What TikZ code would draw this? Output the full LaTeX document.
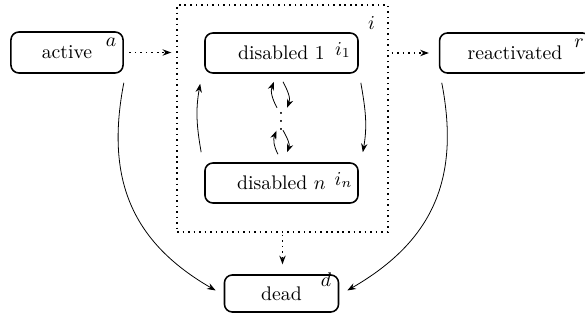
\documentclass[tikz,border=0pt]{standalone}
\usetikzlibrary{arrows.meta,calc}
\begin{document}
\begin{tikzpicture}[x=0.5076pt,y=-0.5076pt,
  state/.style={draw,thick,rounded corners=4pt,inner sep=0pt,minimum height=20.3pt},
  tag/.style={inner sep=0pt,anchor=center},
  >={Stealth[length=4.4pt,width=3.2pt]},
  flow/.style={->},
  dflow/.style={->,dotted,thick}]
\useasboundingbox (0,0) rectangle (585,321);
% group box
\node[draw,dotted,thick,minimum width=107.1pt,minimum height=115.2pt,inner sep=0pt] (grp) at (282.5,118.5) {};
% states
\node[state,minimum width=56.9pt,minimum height=20.8pt] (act) at (67,52.5) {active};
\node[state,minimum width=77.7pt] (dis1) at (281.5,53) {disabled 1};
\node[state,minimum width=77.7pt] (disn) at (281.5,183) {disabled $n$};
\node[state,minimum width=76.6pt] (rea) at (515,53) {reactivated};
\node[state,minimum width=57.9pt,minimum height=18.8pt] (dead) at (281.5,293.5) {dead};
\node[inner sep=0pt,anchor=south] (vd) at (281,130.5) {$\vdots$};
% tags
\node[tag] (ta) at (111,42) {$a$};
\node[tag] (ti) at (371.5,23.5) {$i$};
\node[tag] (ti1) at (343,50) {$i_1$};
\node[tag] (tin) at (343.5,180) {$i_n$};
\node[tag] (tr) at (579,43) {$r$};
\node[tag] (td) at (326,280) {$d$};
% dotted connectors
\draw[dflow,shorten <=2.8pt,shorten >=2.5pt] (act.east) -- (act.east -| grp.west);
\draw[dflow,shorten <=1.5pt,shorten >=5pt] (grp.east |- rea.west) -- (rea.west);
\draw[dflow,shorten <=1pt,shorten >=5pt] (grp.south) -- (grp.south |- dead.north);
% outer curves
\draw[flow] ($(act.south east)+(0,9)$) to[out=-101,in=150,looseness=1.1] ($(dead.west)+(-8,-3)$);
\draw[flow] ($(rea.south west)+(3,9)$) to[out=-79,in=30,looseness=1.1] ($(dead.east)+(8,-3)$);
% inner curves
\draw[flow] ($(disn.north west)+(-3,-10)$) to[out=100,in=-100] ($(dis1.south west)+(-4,10)$);
\draw[flow] ($(dis1.south east)+(2,9)$) to[out=-80,in=80] ($(disn.north east)+(4,-10)$);
% small pairs
\draw[flow] ($(dis1.south)+(-4.5,34)$) to[out=118,in=-112] ($(dis1.south)+(-7.5,8)$);
\draw[flow] ($(dis1.south)+(1.5,8)$) to[out=-62,in=68] ($(dis1.south)+(5.5,34)$);
\draw[flow] ($(disn.north)+(-3.5,-8)$) to[out=118,in=-112] ($(disn.north)+(-5,-31.5)$);
\draw[flow] ($(disn.north)+(1.5,-32)$) to[out=-62,in=68] ($(disn.north)+(5.5,-10)$);
\end{tikzpicture}
\end{document}
